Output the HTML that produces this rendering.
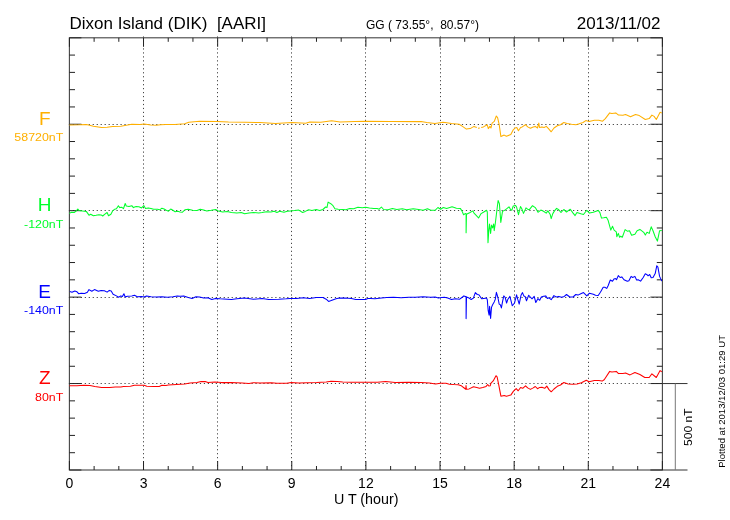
<!DOCTYPE html>
<html><head><meta charset="utf-8"><title>Dixon Island (DIK) magnetogram 2013/11/02</title>
<style>html,body{margin:0;padding:0;background:#fff;width:730px;height:520px;overflow:hidden}svg{display:block}</style>
</head><body>
<svg width="730" height="520" viewBox="0 0 730 520" font-family='"Liberation Sans", Arial, sans-serif'>
<rect width="730" height="520" fill="#fff"/>
<line x1="143.5" y1="36.45" x2="143.5" y2="470.0" stroke="#444" stroke-width="1" stroke-dasharray="1.2 2.768"/>
<line x1="217.5" y1="36.45" x2="217.5" y2="470.0" stroke="#444" stroke-width="1" stroke-dasharray="1.2 2.768"/>
<line x1="291.5" y1="36.45" x2="291.5" y2="470.0" stroke="#444" stroke-width="1" stroke-dasharray="1.2 2.768"/>
<line x1="365.5" y1="36.45" x2="365.5" y2="470.0" stroke="#444" stroke-width="1" stroke-dasharray="1.2 2.768"/>
<line x1="440.5" y1="36.45" x2="440.5" y2="470.0" stroke="#444" stroke-width="1" stroke-dasharray="1.2 2.768"/>
<line x1="514.5" y1="36.45" x2="514.5" y2="470.0" stroke="#444" stroke-width="1" stroke-dasharray="1.2 2.768"/>
<line x1="588.5" y1="36.45" x2="588.5" y2="470.0" stroke="#444" stroke-width="1" stroke-dasharray="1.2 2.768"/>
<line x1="68.87" y1="124.5" x2="662.4" y2="124.5" stroke="#444" stroke-width="1" stroke-dasharray="1.2 2.77"/>
<line x1="68.87" y1="210.5" x2="662.4" y2="210.5" stroke="#444" stroke-width="1" stroke-dasharray="1.2 2.77"/>
<line x1="68.87" y1="297.5" x2="662.4" y2="297.5" stroke="#444" stroke-width="1" stroke-dasharray="1.2 2.77"/>
<line x1="68.87" y1="383.5" x2="662.4" y2="383.5" stroke="#444" stroke-width="1" stroke-dasharray="1.2 2.77"/>
<rect x="69.4" y="37.8" width="593.00" height="432.20" fill="none" stroke="#444" stroke-width="1.1"/>
<path d="M69.4 37.80h12M662.4 37.80h-12M69.4 55.09h5.6M662.4 55.09h-5.6M69.4 72.38h5.6M662.4 72.38h-5.6M69.4 89.66h5.6M662.4 89.66h-5.6M69.4 106.95h5.6M662.4 106.95h-5.6M69.4 124.24h12M662.4 124.24h-12M69.4 141.53h5.6M662.4 141.53h-5.6M69.4 158.82h5.6M662.4 158.82h-5.6M69.4 176.10h5.6M662.4 176.10h-5.6M69.4 193.39h5.6M662.4 193.39h-5.6M69.4 210.68h12M662.4 210.68h-12M69.4 227.97h5.6M662.4 227.97h-5.6M69.4 245.26h5.6M662.4 245.26h-5.6M69.4 262.54h5.6M662.4 262.54h-5.6M69.4 279.83h5.6M662.4 279.83h-5.6M69.4 297.12h12M662.4 297.12h-12M69.4 314.41h5.6M662.4 314.41h-5.6M69.4 331.70h5.6M662.4 331.70h-5.6M69.4 348.98h5.6M662.4 348.98h-5.6M69.4 366.27h5.6M662.4 366.27h-5.6M69.4 383.56h12M662.4 383.56h-12M69.4 400.85h5.6M662.4 400.85h-5.6M69.4 418.14h5.6M662.4 418.14h-5.6M69.4 435.42h5.6M662.4 435.42h-5.6M69.4 452.71h5.6M662.4 452.71h-5.6M69.4 470.00h12M662.4 470.00h-12M69.40 37.8v9M69.40 470.0v-9M94.11 37.8v4M94.11 470.0v-4M118.82 37.8v4M118.82 470.0v-4M143.53 37.8v9M143.53 470.0v-9M168.23 37.8v4M168.23 470.0v-4M192.94 37.8v4M192.94 470.0v-4M217.65 37.8v9M217.65 470.0v-9M242.36 37.8v4M242.36 470.0v-4M267.07 37.8v4M267.07 470.0v-4M291.77 37.8v9M291.77 470.0v-9M316.48 37.8v4M316.48 470.0v-4M341.19 37.8v4M341.19 470.0v-4M365.90 37.8v9M365.90 470.0v-9M390.61 37.8v4M390.61 470.0v-4M415.32 37.8v4M415.32 470.0v-4M440.02 37.8v9M440.02 470.0v-9M464.73 37.8v4M464.73 470.0v-4M489.44 37.8v4M489.44 470.0v-4M514.15 37.8v9M514.15 470.0v-9M538.86 37.8v4M538.86 470.0v-4M563.57 37.8v4M563.57 470.0v-4M588.27 37.8v9M588.27 470.0v-9M612.98 37.8v4M612.98 470.0v-4M637.69 37.8v4M637.69 470.0v-4M662.40 37.8v9M662.40 470.0v-9" stroke="#222" stroke-width="1" fill="none"/>
<path d="M662.4 383.56H687.5M662.4 470.0H687.5" stroke="#333" stroke-width="1" fill="none"/>
<path d="M675.3 383.56V470.0" stroke="#777" stroke-width="1" fill="none"/>
<text x="0" y="0" font-size="11.2" text-anchor="middle" transform="translate(691.9 427.2) rotate(-90) scale(1.075 1)">500 nT</text>
<text x="0" y="0" font-size="9.1" transform="translate(725 467.8) rotate(-90) scale(1.05 1)">Plotted at 2013/12/03 01:29 UT</text>
<path d="M69.4,125.1 79.7,124.8 86.5,124.4 93.4,126.2 101.6,127.4 107.1,127.3 112.6,126.4 120.8,126.2 126.3,125.3 131.8,124.2 140.0,124.4 144.1,124.1 150.9,125.1 156.4,125.3 160.5,124.8 166.0,124.5 175.0,124.6 184.7,123.7 188.8,122.3 199.7,121.2 217.5,121.5 228.5,122.0 245.0,122.3 260.0,122.6 275.5,123.4 292.0,122.5 305.7,123.2 309.8,122.0 320.8,122.3 331.7,120.7 340.0,122.0 355.0,121.6 365.8,121.2 391.0,121.6 421.2,121.6 426.7,122.6 435.0,123.4 443.0,122.3 445.0,122.5 451.6,123.4 459.2,124.2 462.5,126.4 466.4,129.1 470.2,128.6 474.0,126.4 476.8,127.5M478.0,128.3 479.8,128.0M481.2,127.6 483.4,126.9 487.2,124.7 488.3,128.6 489.9,126.4 491.0,128.0 492.1,123.1 494.3,121.4 496.3,116.0 497.6,117.6 499.2,124.7 500.9,136.6 504.2,135.1 506.4,136.2 510.8,134.6 513.0,130.2 515.1,128.0 516.8,127.5 518.4,130.8 520.6,127.5 522.2,126.9 525.5,124.7 527.7,126.9 530.4,128.2 533.2,126.9 535.3,126.4 537.5,128.0 538.8,123.1 539.5,127.5 541.9,126.9 544.1,127.5 546.3,126.4 548.5,128.6 551.2,131.8 554.0,128.0 557.3,125.8 560.5,124.7 563.8,122.5 567.1,123.4 571.5,124.2 575.9,124.7 579.2,123.8 583.0,122.5 585.8,120.6 589.0,121.4 594.4,120.3 598.8,120.3 602.6,121.2 605.3,118.6 609.7,112.9 611.9,113.4 615.8,112.9 618.5,115.1 622.9,115.3 625.6,114.6 630.5,116.7 635.5,114.5 639.3,115.6 645.3,119.5 649.2,118.6 651.9,115.1 654.1,116.4 656.3,119.5 660.1,112.3 661.8,112.9" fill="none" stroke="#ffb000" stroke-width="1.05" stroke-linejoin="round"/>
<path d="M69.3,213.4 71.5,212.3 74.2,212.5 76.4,210.9 77.8,209.0 79.2,210.6 82.4,210.9 86.3,211.4 87.9,213.6 89.0,215.3 90.7,214.2 93.4,215.8 96.1,215.3 98.9,214.7 101.1,214.9 102.7,216.0 104.9,214.2 107.1,212.5 108.5,215.8 110.9,214.2 112.6,210.9 114.8,209.2 116.4,208.7 118.4,205.7 119.7,207.6 121.9,207.3 123.5,208.7 125.2,203.5 126.3,206.0 129.0,206.5 131.8,205.7 133.4,207.6 136.1,206.5 138.9,206.8 141.6,207.9 143.8,205.6 145.5,208.4 148.2,207.9 151.0,208.4 153.7,209.2 157.5,209.2 159.7,209.8 161.9,208.2 164.1,209.0 166.3,210.3 168.5,211.2 170.7,209.0 172.9,210.3 175.1,211.7 177.8,211.2 180.0,212.0 182.2,212.3 184.9,209.8 188.2,209.2 192.6,210.3 197.0,210.6 200.3,209.2 203.6,210.1 206.8,210.9 211.2,210.3 215.6,209.5 218.3,210.9 222.7,212.0 227.1,211.4 231.4,212.5 236.9,213.1 241.3,212.5 244.6,213.8 249.0,213.1 253.4,212.5 258.8,212.9 262.1,212.5 266.5,211.7 270.9,212.0 274.2,211.2 276.9,212.5 279.7,211.2 284.0,212.3 287.3,211.2 290.6,210.9 294.4,210.6 298.8,210.1 302.6,212.5 305.3,211.4 308.6,209.7 311.9,210.4 316.3,209.5 319.6,210.6 322.9,209.5 325.6,207.0 327.0,207.5 328.1,202.1 330.8,203.7 332.7,205.3 334.9,208.8 338.2,209.2 342.6,209.5 345.9,209.7 349.7,208.6 353.6,208.8 357.9,207.3 362.3,207.8 365.6,207.2 369.4,208.1 373.8,208.6 377.1,208.4 379.2,209.2 381.4,207.0 383.6,209.5 388.0,209.7 392.4,208.6 396.8,209.5 402.3,208.8 406.6,209.7 413.2,208.8 418.7,209.5 423.1,210.3 427.5,208.8 430.8,210.3 435.1,210.3 437.9,207.5 440.6,209.2 443.3,207.5 446.6,208.4 452.1,206.8 456.4,208.2 460.3,208.4 461.9,210.9 463.6,214.7 465.2,213.6 466.1,213.8 466.1,232.8 466.5,214.2 469.6,212.8 472.9,210.9 474.0,213.1 476.2,215.3 478.6,218.0 481.1,213.6 483.8,212.0 486.6,210.3 487.3,212.0 488.0,242.7 488.8,230.1 489.5,224.0 490.6,233.4 491.5,225.1 492.6,227.9 493.7,224.0 494.2,230.6 495.3,223.5 496.4,214.2 498.1,200.5 499.4,203.8 500.8,222.4 502.5,211.4 504.7,210.3 506.8,208.7 509.0,206.8 510.7,209.8 511.8,210.3 513.2,206.0 515.6,205.4 516.6,207.1 518.5,214.7 520.5,206.5 521.8,208.7 523.5,213.4 526.0,207.9 527.6,209.2 529.2,209.8 532.5,205.7 535.3,207.6 538.0,212.3 540.8,210.1 543.5,211.2 546.2,213.1 547.9,210.9 550.1,214.2 551.2,218.6 552.8,213.6 554.5,210.9 556.6,208.4 558.8,209.8 561.0,212.5 563.8,209.5 566.5,212.0 570.3,209.2 573.1,213.1 575.1,215.6 576.9,212.5 580.8,213.8 583.5,214.5 586.8,210.3 589.5,213.1 593.3,212.3 598.2,210.4 599.9,212.6 601.5,218.1 603.7,217.8 606.4,217.3 608.1,220.3 610.8,230.1 612.5,226.3 614.1,230.1 616.3,231.8 616.8,236.7 618.3,233.4 619.6,237.3 620.7,236.2 622.3,237.3 625.1,229.6 627.3,231.2 629.5,230.7 631.6,235.3 634.9,234.2 637.1,230.7 639.9,229.4 643.7,232.3 645.3,235.1 647.0,232.3 649.2,233.4 651.2,226.8 653.0,230.7 655.2,236.7 657.4,241.1 659.6,230.7 661.8,230.5" fill="none" stroke="#00ff2a" stroke-width="1.05" stroke-linejoin="round"/>
<path d="M69.8,291.5 72.0,292.3 74.8,291.0 77.0,291.8 78.6,293.7 81.3,293.2 84.6,293.4 87.4,292.3 89.0,289.6 91.8,291.2 94.5,289.6 98.3,291.3 101.1,290.4 104.4,290.7 107.1,292.1 109.3,290.4 111.2,291.0 113.1,294.2 116.4,295.9 118.6,297.3 120.8,295.9 122.4,296.4 123.9,293.7 125.2,297.0 127.4,296.2 131.8,295.9 134.5,295.3 137.2,296.7 141.6,296.4 144.0,297.1 146.6,295.9 151.0,296.7 156.4,297.0 161.9,296.7 167.4,297.3 172.9,296.7 177.3,295.9 180.0,296.2 183.8,295.9 188.2,297.5 192.1,298.4 195.9,296.7 199.7,297.0 203.6,298.1 207.9,297.8 211.8,299.5 215.6,298.4 220.0,298.8 231.4,299.5 236.9,298.8 244.6,298.1 253.4,299.2 262.1,298.6 268.7,299.5 278.6,299.2 286.2,298.8 290.0,298.4 296.6,298.6 303.2,297.8 309.7,298.4 316.3,297.5 322.9,297.5 326.2,299.2 328.6,301.4 330.5,300.8 333.3,299.7 336.0,298.8 339.3,298.1 344.8,298.1 351.4,298.4 355.8,299.5 361.2,299.5 365.6,299.5 367.8,298.6 370.5,298.4 374.9,298.8 381.4,298.1 386.9,297.5 393.5,297.3 401.2,297.8 408.8,297.3 415.4,297.3 423.1,296.7 430.8,297.3 435.1,297.0 438.4,298.1 441.7,297.5 444.4,297.3 447.7,298.1 451.5,299.5 455.3,298.8 459.7,299.2 461.9,297.5 463.9,295.9 465.4,296.4 466.1,296.4 466.1,318.6 466.5,297.0 469.0,298.1 471.2,299.5 473.4,298.1 475.3,292.6 477.3,294.5 478.9,294.8 481.6,298.8 483.8,298.4 486.6,298.1 487.3,299.7 488.2,310.7 489.1,315.1 489.6,306.3 490.6,318.4 491.5,307.4 492.6,304.7 494.2,301.9 495.3,299.2 496.4,292.3 497.9,297.5 499.2,304.1 500.3,304.7 501.4,307.9 502.5,301.9 503.8,295.9 505.2,297.5 506.6,303.0 507.9,299.2 509.9,296.4 512.3,305.8 514.5,303.0 516.6,294.8 517.7,299.2 519.2,304.1 521.0,295.3 522.5,292.6 523.8,295.9 525.1,296.4 526.5,300.8 528.7,295.3 530.3,297.0 532.0,298.8 534.2,296.4 535.8,302.5 538.0,298.6 539.7,300.3 541.3,297.0 543.5,296.2 545.7,295.9 547.3,298.4 549.0,297.8 551.2,299.7 553.9,295.6 556.1,297.0 558.8,296.4 561.6,297.3 564.3,296.4 566.5,294.5 569.8,297.0 573.1,297.0 575.8,294.5 578.0,295.1 580.8,293.7 583.5,292.6 586.8,295.9 589.5,293.2 593.3,294.2 595.5,295.3 598.2,295.5 600.4,292.3 603.2,287.3 604.8,287.3 606.7,288.4 608.1,285.7 610.3,280.0 612.5,281.3 614.1,278.9 615.4,278.6 616.5,279.7 618.3,275.6 620.1,277.5 621.8,276.9 624.0,279.7 627.3,281.3 628.9,280.8 631.1,276.4 632.7,277.5 634.9,276.4 636.6,280.0 638.2,279.7 640.6,281.1 643.2,277.5 645.3,273.8 647.0,274.7 648.1,275.8 649.7,274.5 651.2,277.8 653.0,277.5 655.2,273.6 656.8,265.7 657.9,267.1 659.6,276.4 661.8,281.1" fill="none" stroke="#0000ff" stroke-width="1.05" stroke-linejoin="round"/>
<path d="M69.4,385.8 77.0,385.8 83.8,385.3 90.0,385.5 94.8,386.4 101.6,387.4 109.8,387.4 115.3,387.0 120.8,387.0 123.5,386.4 130.4,386.2 134.5,385.3 140.0,385.3 144.1,385.3 146.8,386.2 153.7,386.4 159.2,386.4 161.9,385.3 166.0,385.5 168.2,385.1 176.4,384.4 184.7,384.0 190.1,383.0 197.0,382.6 201.1,381.6 205.2,381.6 207.9,382.6 214.8,382.1 221.6,382.6 231.2,382.6 242.2,383.0 249.0,383.4 253.2,382.7 260.0,383.0 271.4,382.7 276.9,383.3 286.5,383.3 291.3,382.6 298.8,383.0 307.1,382.7 316.6,382.6 326.2,382.1 331.0,381.2 337.2,381.4 342.7,382.1 350.9,382.3 366.4,382.3 377.4,382.3 385.6,381.6 395.2,382.6 408.9,382.3 421.2,382.6 429.5,383.0 435.6,384.0 440.4,383.3 445.9,383.3 449.4,384.2 453.8,384.5 458.2,384.7 461.4,385.8 464.2,388.0 465.8,389.3 466.0,385.6 466.4,389.3 469.1,388.9 473.5,386.7 476.8,387.5 479.5,388.2 482.8,387.5 486.1,386.4 487.7,384.5 488.8,386.0 490.2,385.8 491.0,383.1 493.2,380.9 496.0,375.7 497.1,376.8 498.7,384.7 500.9,396.2 504.2,395.5 506.4,396.2 510.8,395.1 513.5,391.1 516.2,388.6 518.2,390.8 520.6,387.5 522.7,388.3 525.5,385.8 527.7,387.9 530.4,389.4 533.2,387.9 535.3,386.5 537.5,388.7 539.7,387.4 541.9,387.2 544.7,388.3 546.8,386.1 549.0,389.6 551.2,391.8 554.0,389.0 557.3,386.3 560.5,385.0 563.8,382.5 568.2,383.9 572.6,384.3 577.0,384.1 581.4,382.8 586.3,380.3 589.0,381.7 594.4,380.4 598.8,380.5 602.1,381.1 604.2,379.7 609.7,371.4 611.9,372.0 616.3,371.4 618.5,373.6 622.9,373.4 625.6,373.1 630.0,374.9 634.9,372.5 639.9,374.5 644.8,377.5 649.2,377.5 651.9,373.8 656.3,377.5 660.1,370.6 661.8,371.7" fill="none" stroke="#ff0000" stroke-width="1.05" stroke-linejoin="round"/>
<text x="44.7" y="124.6" font-size="19" text-anchor="middle" fill="#ffb000">F</text>
<text transform="translate(63.3 141.4) scale(1.07 1)" font-size="11.6" text-anchor="end" fill="#ffb000">58720nT</text>
<text x="44.7" y="211.1" font-size="19" text-anchor="middle" fill="#00ff2a">H</text>
<text transform="translate(63.3 227.9) scale(1.07 1)" font-size="11.6" text-anchor="end" fill="#00ff2a">-120nT</text>
<text x="44.7" y="297.5" font-size="19" text-anchor="middle" fill="#0000ff">E</text>
<text transform="translate(63.3 314.3) scale(1.07 1)" font-size="11.6" text-anchor="end" fill="#0000ff">-140nT</text>
<text x="44.7" y="384.0" font-size="19" text-anchor="middle" fill="#ff0000">Z</text>
<text transform="translate(63.3 400.8) scale(1.07 1)" font-size="11.6" text-anchor="end" fill="#ff0000">80nT</text>
<text x="69.40" y="488" font-size="14" text-anchor="middle">0</text>
<text x="143.53" y="488" font-size="14" text-anchor="middle">3</text>
<text x="217.65" y="488" font-size="14" text-anchor="middle">6</text>
<text x="291.77" y="488" font-size="14" text-anchor="middle">9</text>
<text x="365.90" y="488" font-size="14" text-anchor="middle">12</text>
<text x="440.02" y="488" font-size="14" text-anchor="middle">15</text>
<text x="514.15" y="488" font-size="14" text-anchor="middle">18</text>
<text x="588.27" y="488" font-size="14" text-anchor="middle">21</text>
<text x="662.40" y="488" font-size="14" text-anchor="middle">24</text>
<text x="366.2" y="504.3" font-size="14.3" text-anchor="middle">U T (hour)</text>
<text x="69.5" y="29.2" font-size="17" xml:space="preserve">Dixon Island (DIK)  [AARI]</text>
<text x="366" y="28.6" font-size="12" xml:space="preserve">GG ( 73.55°,  80.57°)</text>
<text x="660.5" y="29" font-size="17" text-anchor="end">2013/11/02</text>
</svg>
</body></html>
